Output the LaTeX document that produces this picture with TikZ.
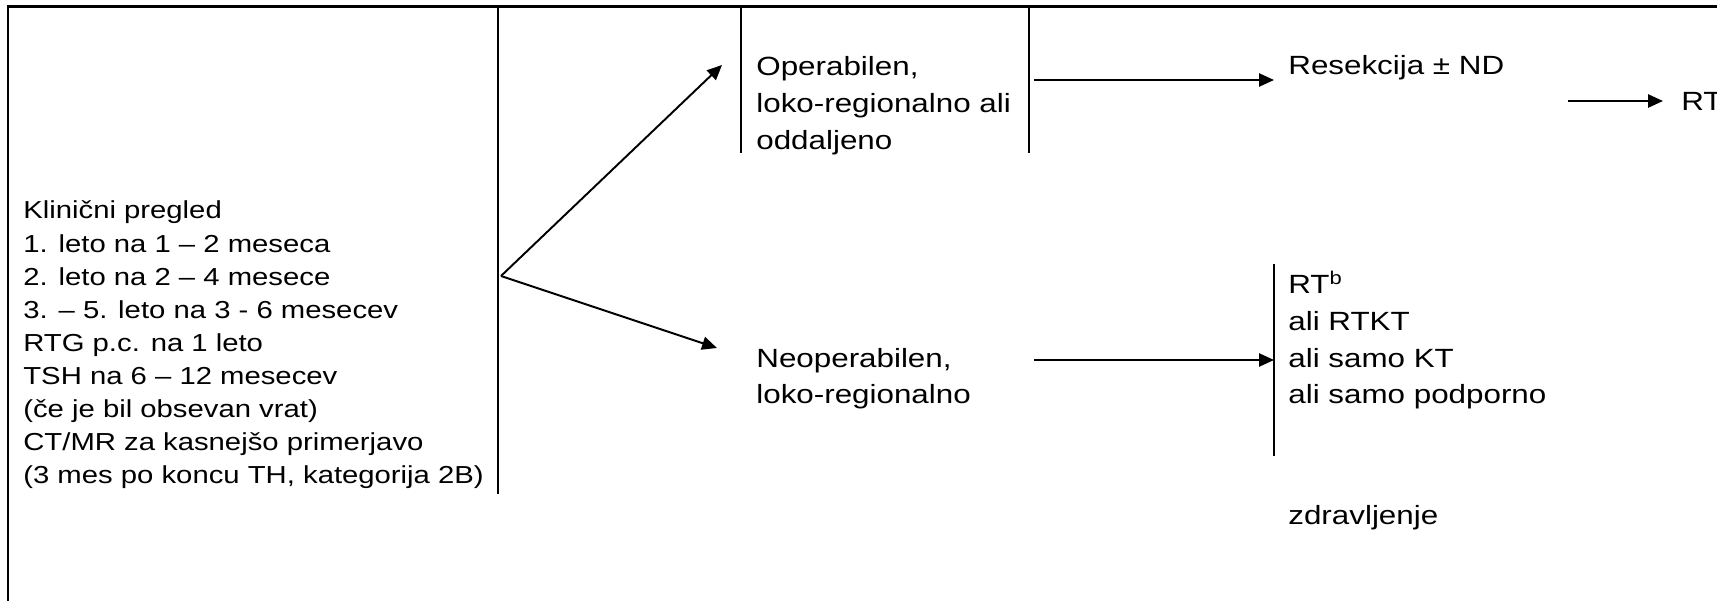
\documentclass[tikz,border=0pt]{standalone}
\usepackage{fontspec}
\usepackage{tikz}
\usetikzlibrary{arrows.meta, positioning, calc}
\newfontfamily\reffont{Liberation Sans}[FakeStretch=1.19]
\newcommand{\stacklines}[1]{\begin{tabular}[t]{@{}l@{}}#1\end{tabular}}

\tikzset{
  frameline/.style={line width=1.4pt},
  thinline/.style={line width=0.75pt},
  arr/.style={line width=1.1pt, -{Triangle[length=8.5pt, width=7.5pt]}},
  lefttxt/.style={inner sep=0pt, anchor=base west, font=\reffont\fontsize{14}{18.8}\selectfont},
  righttxt/.style={inner sep=0pt, anchor=base west, font=\reffont\fontsize{15}{20.8}\selectfont},
}

\begin{document}
\begin{tikzpicture}[x=0.02cm, y=-0.02cm]
\useasboundingbox (0,0) rectangle (1717,601);
\clip (0,0) rectangle (1717,601);

% frame and column lines
\draw[frameline] (1717,6.5) -- (8,6.5) -- (8,601);
\draw[frameline] (498,6.5) -- (498,494);
\draw[frameline] (741,6.5) -- (741,153);
\draw[frameline] (1029,6.5) -- (1029,153);
\draw[thinline] (1274,264) -- (1274,456);

% texts
\node[lefttxt] (pregled) at (23,219) {\stacklines{Klinični pregled\\
  1. leto na 1 – 2 meseca\\
  2. leto na 2 – 4 mesece\\
  3. – 5. leto na 3 - 6 mesecev\\
  RTG p.c. na 1 leto\\
  TSH na 6 – 12 mesecev\\
  (če je bil obsevan vrat)\\
  CT/MR za kasnejšo primerjavo\\
  (3 mes po koncu TH, kategorija 2B)}};
\node[righttxt] (oper) at (756,76) {\stacklines{Operabilen,\\loko-regionalno ali\\oddaljeno}};
\node[righttxt] (neoper) at (756,367) {\stacklines{Neoperabilen,\\loko-regionalno}};
\node[righttxt] (resek) at (1288,75) {Resekcija ± ND};
\node[righttxt] (rt) at (1681,111) {RT};
\node[righttxt] (moznosti) at (1288,294) {\stacklines{RT\textsuperscript{b}\\ali RTKT\\ali samo KT\\ali samo podporno}};
\node[righttxt] (zdrav) at (1288,524) {zdravljenje};

% arrows
\coordinate (split) at (501,276);
\coordinate (oper-in) at (722,65);
\coordinate (neoper-in) at (717,348);
\coordinate (oper-out) at (1034,80);
\coordinate (resek-in) at (1274,80);
\coordinate (resek-out) at (1568,101);
\coordinate (rt-in) at (1663,101);
\coordinate (neoper-out) at (1034,360);
\coordinate (moznosti-in) at (1274,360);
\draw[arr] (split) -- (oper-in);
\draw[arr] (split) -- (neoper-in);
\draw[arr] (oper-out) -- (resek-in);
\draw[arr] (resek-out) -- (rt-in);
\draw[arr] (neoper-out) -- (moznosti-in);
\end{tikzpicture}
\end{document}
